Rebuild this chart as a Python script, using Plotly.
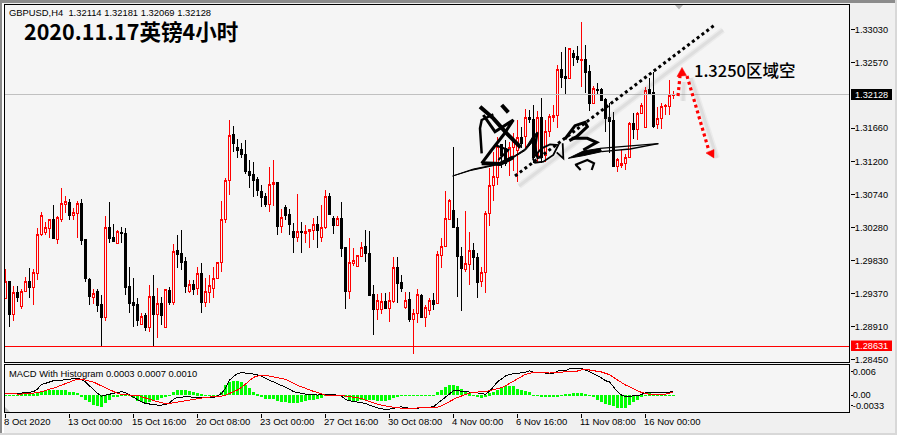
import plotly.graph_objects as go

W, H = 897, 435

# GBPUSD H4 candles
opens = [1.29303,1.29538,1.29081,1.29386,1.29192,1.29400,1.29538,1.29455,1.29649,1.30191,1.30218,1.30274,1.30398,1.30121,1.30398,1.30607,1.30634,1.30454,1.30482,1.30620,
         1.30121,1.29566,1.29317,1.29400,1.29220,1.29040,1.30287,1.30149,1.30066,1.30218,1.30204,1.29469,1.29247,1.29220,1.28943,1.29067,1.28901,1.29331,1.29081,1.29234,
         1.28901,1.29414,1.29247,1.29969,1.29927,1.29816,1.29400,1.29497,1.29442,1.29649,1.29247,1.29386,1.29442,1.29580,1.29802,1.30398,1.30939,1.31577,1.31397,1.31369,
         1.31300,1.31064,1.31023,1.30953,1.30787,1.30718,1.30607,1.30884,1.30912,1.30301,1.30565,1.30468,1.30232,1.30149,1.30232,1.30204,1.30232,1.30246,1.30329,1.30149,
         1.30287,1.30718,1.30412,1.30315,1.30412,1.30010,1.29400,1.29788,1.29747,1.29886,1.30024,1.29927,1.29359,1.29150,1.29150,1.29261,1.29164,1.29261,1.29733,1.29525,
         1.29178,1.29289,1.29012,1.29095,1.29345,1.29040,1.29136,1.29275,1.29234,1.29899,1.30024,1.30398,1.30523,1.30287,1.29886,1.29705,1.29775,1.29969,1.29872,1.29538,
         1.29663,1.30482,1.30870,1.30981,1.31439,1.31383,1.31217,1.31397,1.31356,1.31536,1.31550,1.31813,1.31786,1.31273,1.31813,1.31286,1.31619,1.31813,1.31841,1.32479,
         1.32382,1.32354,1.32701,1.32659,1.32604,1.32618,1.32451,1.32007,1.32202,1.32202,1.32063,1.31813,1.31772,1.31134,1.31148,1.31175,1.31259,1.31730,1.31647,1.31869,
         1.31675,1.32202,1.32160,1.31716,1.31799,1.31966,1.31966,1.32114]
highs = [1.29705,1.29538,1.29469,1.29469,1.29428,1.29594,1.29719,1.29705,1.30274,1.30495,1.30357,1.30398,1.30593,1.30440,1.30829,1.30718,1.30676,1.30551,1.30648,1.30676,
         1.30121,1.29580,1.29428,1.29428,1.29345,1.30440,1.30634,1.30329,1.30246,1.30287,1.30274,1.29733,1.29580,1.29303,1.29095,1.29095,1.29483,1.29622,1.29442,1.29317,
         1.29428,1.29455,1.30052,1.30177,1.30246,1.29872,1.29552,1.29552,1.29733,1.29788,1.29580,1.29622,1.29733,1.29802,1.30648,1.30967,1.31772,1.31688,1.31508,1.31453,
         1.31494,1.31217,1.31189,1.30981,1.30870,1.30759,1.31120,1.31217,1.30912,1.30537,1.30593,1.30537,1.30343,1.30745,1.30357,1.30315,1.30260,1.30412,1.30440,1.30593,
         1.30801,1.30759,1.30440,1.30440,1.30634,1.30010,1.30135,1.29997,1.29899,1.30080,1.30246,1.30232,1.29483,1.29359,1.29372,1.29372,1.29386,1.29872,1.29872,1.29622,
         1.29386,1.29386,1.29150,1.29428,1.29359,1.29206,1.29303,1.29372,1.29955,1.30135,1.30787,1.30676,1.31397,1.30412,1.30010,1.30509,1.30218,1.30066,1.29927,1.29733,
         1.30509,1.31106,1.31328,1.31536,1.31439,1.31494,1.31466,1.31591,1.31772,1.31675,1.31924,1.31910,1.31980,1.31896,1.32077,1.31772,1.31855,1.31980,1.32534,1.32715,
         1.32784,1.32770,1.32742,1.32798,1.33131,1.32812,1.32534,1.32243,1.32285,1.32215,1.32077,1.32007,1.31883,1.31245,1.31356,1.31300,1.31744,1.31869,1.31883,1.32007,
         1.32229,1.32354,1.32437,1.31952,1.32007,1.31994,1.32326,1.32181]
lows = [1.29303,1.28901,1.28984,1.29247,1.29150,1.29400,1.29303,1.29206,1.29552,1.30163,1.30177,1.30135,1.30135,1.30052,1.30357,1.30482,1.30385,1.30385,1.30135,1.30038,
        1.29525,1.29206,1.29220,1.29109,1.28623,1.28984,1.30066,1.30093,1.30066,1.30066,1.29345,1.29095,1.28901,1.28915,1.28943,1.28845,1.28832,1.28623,1.28748,1.28929,
        1.28901,1.29206,1.29206,1.29719,1.29691,1.29372,1.29372,1.29345,1.29345,1.29095,1.29178,1.29234,1.29303,1.29580,1.29663,1.30343,1.30731,1.31328,1.31245,1.31245,
        1.31023,1.30829,1.30704,1.30718,1.30565,1.30565,1.30495,1.30579,1.30177,1.30204,1.30385,1.30177,1.29927,1.30080,1.29927,1.30066,1.29997,1.30107,1.29997,1.30080,
        1.30260,1.30454,1.30191,1.30315,1.29872,1.29150,1.29289,1.29747,1.29733,1.29872,1.29802,1.29345,1.28790,1.28998,1.29081,1.29164,1.28970,1.29234,1.29234,1.29386,
        1.29150,1.28970,1.28526,1.28956,1.29026,1.28901,1.29067,1.29136,1.29234,1.29719,1.30024,1.30398,1.30287,1.29317,1.29122,1.29663,1.29483,1.29691,1.29303,1.29455,
        1.29372,1.30301,1.30648,1.30870,1.31106,1.31134,1.30995,1.31064,1.30912,1.31383,1.31383,1.31730,1.31175,1.31175,1.31175,1.31189,1.31536,1.31744,1.31661,1.32215,
        1.32132,1.32354,1.32521,1.32562,1.32229,1.32146,1.31896,1.31994,1.32118,1.32035,1.31605,1.31314,1.31134,1.31050,1.31106,1.31078,1.31259,1.31508,1.31494,1.31869,
        1.31675,1.32146,1.31661,1.31647,1.31647,1.31841,1.31841,1.32069]
closes = [1.29538,1.29081,1.29386,1.29317,1.29400,1.29538,1.29455,1.29663,1.30191,1.30454,1.30287,1.30398,1.30135,1.30426,1.30620,1.30648,1.30454,1.30495,1.30620,1.30107,
          1.29580,1.29331,1.29372,1.29206,1.29040,1.30287,1.30135,1.30093,1.30232,1.30204,1.29455,1.29234,1.29206,1.28998,1.29053,1.28901,1.29331,1.29081,1.29234,1.29067,
          1.29428,1.29247,1.29955,1.29913,1.29802,1.29469,1.29497,1.29428,1.29649,1.29247,1.29400,1.29483,1.29580,1.29802,1.30398,1.30939,1.31564,1.31453,1.31356,1.31300,
          1.31064,1.31009,1.30939,1.30801,1.30704,1.30607,1.30884,1.30912,1.30301,1.30426,1.30454,1.30329,1.30149,1.30232,1.30218,1.30232,1.30260,1.30329,1.30246,1.30287,
          1.30718,1.30468,1.30315,1.30412,1.29997,1.29400,1.29802,1.29830,1.29899,1.30010,1.29927,1.29345,1.29150,1.29275,1.29261,1.29164,1.29275,1.29733,1.29511,1.29442,
          1.29275,1.29012,1.29095,1.29359,1.29040,1.29178,1.29275,1.29220,1.29913,1.30024,1.30412,1.30662,1.30287,1.29886,1.29719,1.29788,1.29969,1.29872,1.29525,1.29663,
          1.30482,1.30870,1.30995,1.31411,1.31286,1.31175,1.31397,1.31480,1.31536,1.31453,1.31813,1.31786,1.31259,1.31813,1.31259,1.31619,1.31827,1.31841,1.32479,1.32368,
          1.32354,1.32770,1.32645,1.32618,1.32618,1.32437,1.32007,1.32215,1.32188,1.32049,1.31799,1.31758,1.31134,1.31231,1.31175,1.31259,1.31730,1.31647,1.31869,1.31980,
          1.32188,1.32146,1.31688,1.31799,1.31966,1.31980,1.32118,1.32128]

# MACD panel
hist = [0.00008,0.00008,0.00008,0.00015,0.00025,0.00025,0.00025,0.0003,0.0005,0.001,0.00113,0.00138,0.00138,0.00125,0.00125,0.00125,0.00088,0.00075,0.00063,-0.0005,
        -0.00125,-0.00175,-0.0025,-0.00275,-0.003,-0.002,-0.00125,-0.0005,-0.00013,0.00013,0.00025,0.00008,-0.00075,-0.0015,-0.00188,-0.00213,-0.00175,-0.0015,-0.00125,-0.00063,
        -0.00038,0.00013,0.00075,0.00125,0.00138,0.00125,0.001,0.00075,0.0005,0.00025,0.00013,0.00008,0.00008,0.00013,0.00075,0.0025,0.00325,0.0035,0.0035,0.00325,
        0.0025,0.00175,0.00075,0.00025,-0.00025,-0.001,-0.001,-0.001,-0.0015,-0.00175,-0.00175,-0.002,-0.002,-0.002,
        -0.00175,-0.0015,-0.00125,-0.00125,-0.001,-0.00075,0.00008,0.00008,0.00008,0.00008,0.00008,-0.0005,-0.0015,-0.0015,-0.0015,-0.00125,-0.00125,-0.00125,-0.00125,-0.0015,
        -0.0015,-0.0015,-0.00125,-0.00075,-0.00025,0.00008,0.00008,0.00008,0.00008,0.00008,0.00008,0.00008,0.00008,0.00008,0.00075,0.00125,0.002,0.0025,0.0025,0.00225,
        0.0015,0.00075,0.0005,0.00008,-0.0005,-0.00075,-0.00025,0.0005,0.00075,0.00125,0.002,0.00225,0.00225,0.00225,0.0015,0.00125,0.001,0.00075,0.00013,0.00008,
        -0.00013,-0.00038,-0.0005,-0.0005,-0.00025,0.00013,0.00025,0.00038,0.0005,0.0005,0.0005,0.00038,0.00008,-0.0005,-0.00125,-0.00175,-0.00225,-0.0025,-0.00275,-0.00325,
        -0.00325,-0.00325,-0.0025,-0.00175,-0.00113,-0.0005,0.00013,0.0005,0.00025,0.00013,0.00013,0.00013,0.00013,0.00008]
macd = [0.00043,0.00043,0.00034,0.00034,0.00051,0.0006,0.00068,0.00085,0.00153,0.00272,0.00298,0.0034,0.00366,0.00366,0.00383,0.004,0.00417,0.00417,0.00425,0.004,
        0.00332,0.0023,0.00145,0.00043,-0.00026,0,0.00017,0.00043,0.00068,0.00085,0.0006,0,-0.0006,-0.00128,-0.0017,-0.00213,-0.0023,-0.00238,-0.00255,-0.00255,
        -0.00238,-0.00196,-0.00111,-0.0006,-0.00043,-0.00043,-0.00043,-0.0006,-0.00068,-0.00068,-0.0006,-0.0006,-0.0006,-0.00026,0.00043,0.0017,0.00383,0.00468,0.00553,0.0057,
        0.0057,0.00553,0.00536,0.0051,0.00485,0.00425,0.00383,0.0034,0.00298,0.00255,0.00213,0.00153,0.00085,0.0006,
        0.00043,0.00026,0.00017,0,0,0.00017,0.00017,0.00017,0.00009,0,-0.00026,-0.00111,-0.00145,-0.00162,-0.00187,-0.00187,-0.00213,-0.00255,-0.00298,-0.00323,
        -0.00349,-0.00366,-0.00357,-0.00332,-0.00306,-0.00298,-0.00323,-0.0034,-0.0034,-0.00332,-0.00323,-0.00315,-0.00306,-0.00298,-0.00213,-0.00128,-0.00043,0.00043,0.00111,0.00111,
        0.00094,0.00077,0.00077,0.00068,0.0006,0.00043,0.00017,0.00102,0.00213,0.0034,0.00408,0.00485,0.00527,0.00536,0.00553,0.00561,0.00578,0.00621,0.00578,0.0057,
        0.00561,0.00553,0.00553,0.00553,0.00612,0.00621,0.00621,0.00672,0.00672,0.00672,0.00672,0.00638,0.00595,0.00553,0.00493,
        0.00434,0.00366,0.00332,0.00213,0.00085,0,-0.00034,-0.00026,-0.00026,-0.00017,0.00017,0.0006,0.00068,0.0006,0.0006,0.0006,0.0006,0.00068,0.00111]
signal = [0.00043,0.00034,0.00026,0.00026,0.00026,0.00034,0.00034,0.00043,0.0006,0.00085,0.00111,0.00145,0.00179,0.00213,0.00255,0.00298,0.0034,0.00383,0.00408,0.00408,
          0.00383,0.00357,0.00332,0.00281,0.0023,0.00187,0.00145,0.00085,0.00043,0.00017,0,0,0,0,-0.00043,-0.00068,-0.00102,-0.00136,-0.0017,-0.00196,
          -0.00213,-0.00213,-0.00196,-0.0017,-0.00145,-0.00128,-0.00119,-0.00094,-0.00077,-0.00068,-0.0006,-0.00051,-0.00043,-0.00043,-0.00026,0,0.00043,0.00085,0.00128,0.00196,
          0.00281,0.00366,0.00451,0.00485,0.00493,0.00502,0.00485,0.00468,0.00451,0.00425,0.004,0.00357,0.00298,0.00247,
          0.00213,0.0017,0.00128,0.00094,0.00068,0.00026,0,0,0,0,-0.00009,-0.00026,-0.00043,-0.00068,-0.00085,-0.00085,-0.00128,-0.0017,-0.00196,-0.0023,
          -0.00255,-0.00281,-0.00298,-0.00306,-0.00323,-0.00323,-0.00349,-0.0034,-0.0034,-0.00323,-0.00323,-0.00315,-0.00306,-0.00306,-0.00306,-0.00272,-0.00213,-0.0017,-0.00111,-0.0006,
          -0.00017,0.00026,0.0005,0.00068,0.00085,0.00085,0.00085,0.00111,0.00128,0.00145,0.00187,0.00238,0.00298,0.00366,0.00425,0.00485,0.00527,0.00553,0.00578,0.0057,
          0.00561,0.00561,0.00561,0.0057,0.00578,0.00578,0.00587,0.00595,0.00612,0.00612,0.00638,0.00655,0.00638,0.00621,0.00612,
          0.00587,0.00553,0.00519,0.00451,0.00383,0.00315,0.00255,0.00213,0.00153,0.00111,0.00068,0.00043,0.00017,0.00017,0.00017,0.00017,0.00026,0.00051,0.0006]

price_ticks = [1.33030,1.32570,1.31660,1.31200,1.30740,1.30280,1.29830,1.29370,1.28910,1.28450]
macd_ticks = [0.006,0,-0.0026]
macd_tick_text = ['0.006','0.00','-0.0033']
time_ticks = [0,16,32,48,64,80,96,112,128,144,160]
time_labels = ['8 Oct 2020','13 Oct 00:00','15 Oct 16:00','20 Oct 08:00','23 Oct 00:00','27 Oct 16:00',
               '30 Oct 08:00','4 Nov 00:00','6 Nov 16:00','11 Nov 08:00','16 Nov 00:00']
last_price = 1.32128
support = 1.28631

BG = '#f5f5f5'
FONT = 'Liberation Sans'
bars = list(range(len(closes)))

# pixel -> paper, for the hand drawn stuff on top of the chart
def sx(x): return x / W
def sy(y): return 1 - y / H
def poly(pts, close=False):
    d = 'M' + ' L'.join(f'{sx(x):.5f},{sy(y):.5f}' for x, y in pts)
    return d + (' Z' if close else '')
def sig(pts):
    return poly([(450 + x / 3, 95 + y / 3) for x, y in pts])

fig = go.Figure()
fig.add_trace(go.Candlestick(x=bars, open=opens, high=highs, low=lows, close=closes, whiskerwidth=0,
                             increasing=dict(line=dict(color='#ff0000', width=1), fillcolor=BG),
                             decreasing=dict(line=dict(color='#000000', width=1), fillcolor='#000000'),
                             xaxis='x', yaxis='y', showlegend=False))
fig.add_trace(go.Bar(x=bars, y=hist, width=0.75, marker=dict(color='#00ff00', line=dict(width=0)), xaxis='x', yaxis='y2', showlegend=False))
fig.add_trace(go.Scatter(x=bars, y=macd, mode='lines', line=dict(color='#000000', width=1), xaxis='x', yaxis='y2', showlegend=False))
fig.add_trace(go.Scatter(x=bars, y=signal, mode='lines', line=dict(color='#ff0000', width=1), xaxis='x', yaxis='y2', showlegend=False))

shapes = []
def add_path(d, color='#000000', width=1, dash='solid', fill=None):
    s = dict(type='path', xref='paper', yref='paper', path=d, line=dict(color=color, width=width, dash=dash))
    if fill:
        s['fillcolor'] = fill
    shapes.append(s)
def add_rect(x0, y0, x1, y1, fill=None, line=None):
    shapes.append(dict(type='rect', xref='paper', yref='paper', x0=sx(x0), x1=sx(x1), y0=sy(y0), y1=sy(y1),
                       fillcolor=fill or 'rgba(0,0,0,0)', line=dict(color=line or 'rgba(0,0,0,0)', width=1 if line else 0)))

# window chrome
add_rect(0, 0, 897, 2.5, fill='#8c8c8c')
add_rect(0, 0, 2, 435, fill='#8c8c8c')
add_rect(2, 2.5, 3.5, 435, fill='#ffffff')
add_rect(0, 433, 897, 435, fill='#d8d8d8')
add_rect(895, 0, 897, 435, fill='#d8d8d8')

# price lines
shapes.append(dict(type='line', xref='x domain', yref='y', x0=0, x1=1, y0=last_price, y1=last_price, line=dict(color='#c0c0c0', width=1)))
shapes.append(dict(type='line', xref='x domain', yref='y', x0=0, x1=1, y0=support, y1=support, line=dict(color='#ff0000', width=1)))

# panel frames
add_rect(4.5, 4.5, 849.5, 362.5, line='#000000')
add_rect(4.5, 364.5, 849.5, 412.5, line='#000000')
N_CRISP = len(shapes)

# little grey markers
add_path(poly([(675, 5), (683, 5), (679, 9.5)], True), color='#b4b4b4', fill='#b4b4b4', width=0)
add_path(poly([(5, 407), (10, 412), (5, 412)], True), color='#c4c4c4', fill='#c4c4c4', width=0)

# shadows of the drawn lines, two passes to look a bit blurred
for w, a in [(6, 0.07), (3, 0.10)]:
    shade = f'rgba(110,110,110,{a})'
    add_path(poly([(519, 186), (723, 30)]), color=shade, width=w)
    add_path(poly([(684, 82), (683, 101)]), color=shade, width=w)
    add_path(poly([(691, 78), (717, 158)]), color=shade, width=w)

# dotted trend line and red arrows
add_path(poly([(515, 176), (716, 24)]), color='#000000', width=3, dash='3px,3px')
add_path(poly([(678, 96), (680, 76)]), color='#ff0000', width=3.2, dash='3px,3px')
add_path(poly([(687, 76), (709, 151)]), color='#ff0000', width=3.2, dash='3px,3px')
add_path(poly([(677, 76.5), (686.5, 75.5), (682, 67.5)], True), color='#ff0000', fill='#ff0000', width=0.5)
add_path(poly([(706, 153), (714, 149.5), (714, 158)], True), color='#ff0000', fill='#ff0000', width=0.5)

# signature
add_path(sig([(8,243),(70,222),(130,210),(185,188),(225,162),(250,122),(262,112),(250,138),(226,166),(185,191),(130,212),(60,227)]) + ' Z', fill='#000000')
add_path(sig([(90,35),(130,70),(170,115),(212,157)]), width=4)
add_path(sig([(130,58),(95,75),(90,100),(95,175)]), width=2.5)
add_path(sig([(100,60),(135,110),(190,75),(160,120),(125,165),(95,205)]), width=3)
add_path(sig([(155,30),(175,52)]), width=4)
add_path(sig([(95,205),(150,207),(190,187)]), width=4)
add_path(sig([(135,150),(175,165),(145,195)]), width=2)
add_path(sig([(262,112),(256,150),(258,172),(264,192)]), width=2.5)
add_path(sig([(248,190),(275,160),(300,148),(325,150),(310,180),(280,200),(255,203),(248,190)]), width=1.8)
add_path(sig([(320,172),(340,190),(338,145)]), width=1.8)
add_path(sig([(345,132),(375,92),(405,82),(412,95),(380,125),(358,137)]), width=3)
add_path(sig([(365,130),(412,130),(440,142),(400,165)]), width=3)
add_path(sig([(355,190),(400,168),(450,160),(455,170),(400,182)]) + ' Z', fill='#000000')
add_path(sig([(450,160),(625,146)]), width=1.3)
add_path(sig([(455,170),(540,162),(625,146)]), width=1.3)
add_path(sig([(375,210),(412,195),(432,205),(425,225)]), width=2.2)
add_path(sig([(378,210),(392,225)]), width=2.2)

# price boxes on the right
add_rect(851, 89, 892, 100, fill='#000000')
add_rect(851, 340.5, 892, 351, fill='#ff0000')

def note(text, x, y, size, color='#000000', bold=False, family=FONT, weight=None):
    fnt = dict(family=family, size=size, color=color)
    if weight:
        fnt['weight'] = weight
    return dict(text=f'<b>{text}</b>' if bold else text, xref='paper', yref='paper', x=sx(x), y=sy(y), xanchor='left', yanchor='middle',
                showarrow=False, font=fnt)

annotations = [
    note('GBPUSD,H4  1.32114 1.32181 1.32069 1.32128', 7, 12.5, 9.4),
    note('MACD With Histogram 0.0003 0.0007 0.0010', 7, 373.5, 9.4),
    note('2020.11.17英镑4小时', 22, 31, 21.5, bold=True, family='Noto Sans CJK SC'),
    note('1.3250区域空', 692, 70, 16.5, family='Noto Sans CJK SC', weight=500),
    note(f'{last_price:.5f}', 853, 94.5, 9.2, color='#ffffff'),
    note(f'{support:.5f}', 853, 345.8, 9.2, color='#ffffff'),
]
for t, label in zip(time_ticks, time_labels):
    annotations.append(dict(text=label, x=t, xref='x', y=sy(421.5), yref='paper', xanchor='left', yanchor='middle', xshift=-4,
                            showarrow=False, font=dict(family=FONT, size=9.5, color='#000000')))

fig.update_layout(
    width=W, height=H, autosize=False, margin=dict(l=0, r=0, t=0, b=0, autoexpand=False),
    paper_bgcolor='#f0f0f0', plot_bgcolor=BG, boxgap=0.5, hovermode=False,
    shapes=shapes, annotations=annotations,
    xaxis=dict(domain=[sx(4), sx(850)], range=[-0.375, 211.125], anchor='y2', rangeslider=dict(visible=False),
               tickmode='array', tickvals=time_ticks, ticktext=[''] * len(time_ticks), ticks='outside', ticklen=4,
               tickcolor='#000000', showgrid=False, zeroline=False, showline=False),
    yaxis=dict(domain=[sy(362.5), sy(4.5)], range=[1.28415, 1.33374], side='right', anchor='x', position=sx(850),
               tickmode='array', tickvals=price_ticks, ticktext=[f'{v:.5f}' for v in price_ticks], ticks='outside', ticklen=4, ticklabelstandoff=-2,
               tickcolor='#000000', tickfont=dict(family=FONT, size=9.2, color='#000000'), showgrid=False, zeroline=False, showline=False),
    yaxis2=dict(domain=[sy(412.5), sy(364.5)], range=[-0.00443, 0.00778], side='right', anchor='x',
                tickmode='array', tickvals=macd_ticks, ticktext=macd_tick_text, ticks='outside', ticklen=2, ticklabelstandoff=-2,
                tickcolor='#000000', tickfont=dict(family=FONT, size=9.2, color='#000000'), showgrid=False, zeroline=False, showline=False),
)

# MT4 draws with no anti-aliasing, so switch it off for candles, bars, indicator lines and frames
post = """
document.body.style.margin='0';document.body.style.background='#f0f0f0';
document.querySelectorAll('.boxlayer path, .barlayer path, .scatterlayer path.js-line').forEach(function(p){p.style.shapeRendering='crispEdges';});
document.querySelectorAll('.layer-above .shapelayer path').forEach(function(p,i){if(i<%d){p.style.shapeRendering='crispEdges';}});
""" % N_CRISP

fig.write_html("out.html", config=dict(displayModeBar=False), post_script=post)
